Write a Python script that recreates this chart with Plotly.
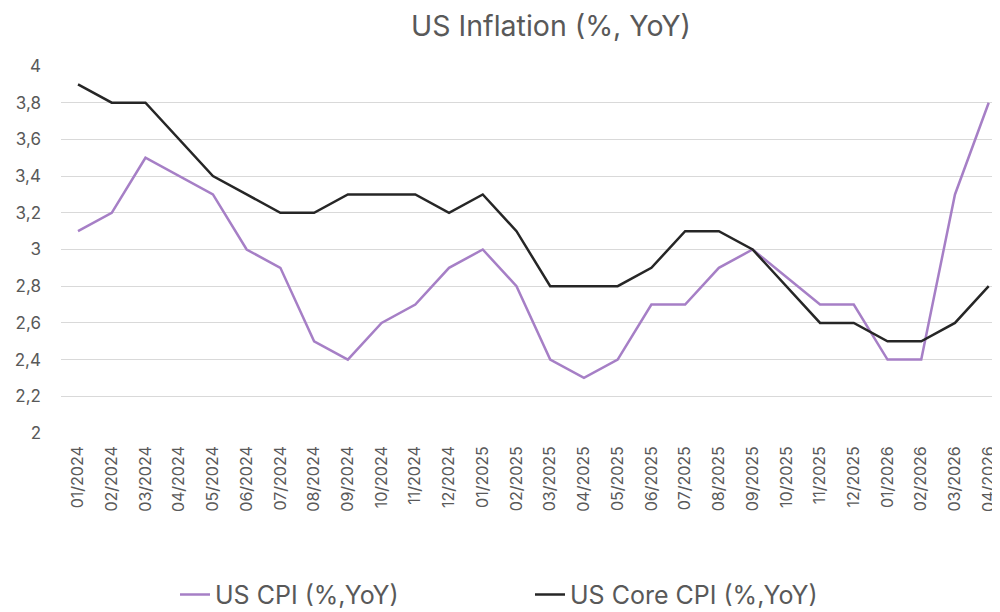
import plotly.graph_objects as go

months = ["01/2024", "02/2024", "03/2024", "04/2024", "05/2024", "06/2024", "07/2024",
          "08/2024", "09/2024", "10/2024", "11/2024", "12/2024", "01/2025", "02/2025",
          "03/2025", "04/2025", "05/2025", "06/2025", "07/2025", "08/2025", "09/2025",
          "10/2025", "11/2025", "12/2025", "01/2026", "02/2026", "03/2026", "04/2026"]

cpi = [3.1, 3.2, 3.5, 3.4, 3.3, 3.0, 2.9, 2.5, 2.4, 2.6, 2.7, 2.9, 3.0, 2.8,
       2.4, 2.3, 2.4, 2.7, 2.7, 2.9, 3.0, None, 2.7, 2.7, 2.4, 2.4, 3.3, 3.8]

core = [3.9, 3.8, 3.8, 3.6, 3.4, 3.3, 3.2, 3.2, 3.3, 3.3, 3.3, 3.2, 3.3, 3.1,
        2.8, 2.8, 2.8, 2.9, 3.1, 3.1, 3.0, None, 2.6, 2.6, 2.5, 2.5, 2.6, 2.8]

y_ticks = [2, 2.2, 2.4, 2.6, 2.8, 3, 3.2, 3.4, 3.6, 3.8, 4]

idx = list(range(len(months)))

font = "Inter, Open Sans, Roboto, Arial"

fig = go.Figure()
fig.add_trace(go.Scatter(x=idx, y=cpi, mode="lines", name="US CPI (%,YoY)",
                         connectgaps=True,
                         line=dict(color="#a67fc6", width=2.5)))
fig.add_trace(go.Scatter(x=idx, y=core, mode="lines", name="US Core CPI (%,YoY)",
                         connectgaps=True,
                         line=dict(color="#262626", width=2.5)))

# page body has an 8px margin, so the figure is sized 992x604 to fill the 1000x612 window
fig.update_layout(
    width=992, height=604,
    paper_bgcolor="white", plot_bgcolor="white",
    margin=dict(l=53, r=0, t=58, b=179, autoexpand=False),
    separators=",.",
    title=dict(text="US Inflation (%, YoY)", x=0.5474, xref="container", xanchor="center",
               y=0.9702, yref="container", yanchor="middle",
               font=dict(family=font, size=28.5, color="#595959")),
    xaxis=dict(range=[-0.504, 27.335], tickmode="array", tickvals=idx, ticktext=months,
               tickangle=-90, showgrid=False, zeroline=False, showline=False,
               ticks="", ticklabelstandoff=9,
               tickfont=dict(family=font, size=16, color="#595959")),
    yaxis=dict(range=[2, 4], tickmode="array", tickvals=y_ticks, showgrid=True,
               gridcolor="#d9d9d9", gridwidth=1, zeroline=False, showline=False,
               ticks="", ticklabelstandoff=19,
               tickfont=dict(family=font, size=17, color="#595959")),
    legend=dict(orientation="h", x=0.1214, xanchor="left", y=-0.441, yanchor="middle",
                entrywidth=310, entrywidthmode="pixels",
                font=dict(family=font, size=25, color="#595959")),
    showlegend=True,
)

fig.write_html("out.html")
